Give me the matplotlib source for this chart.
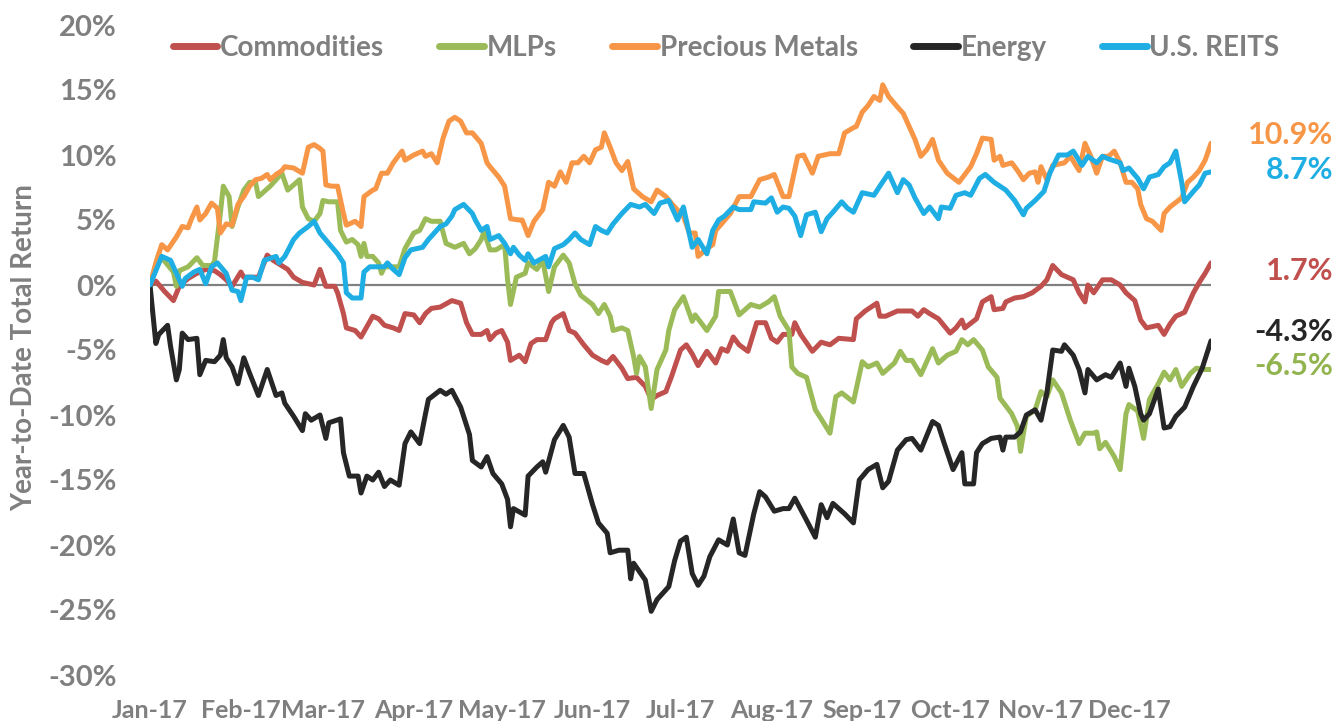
import matplotlib
matplotlib.use("Agg")
import matplotlib.pyplot as plt

plt.rcParams['font.family'] = ['Lato', 'DejaVu Sans']

# day of year (0 = Jan 1 2017), YTD total return in %
com_days = [0,2,5,8,10,13,16,19,22,24,26,28,31,32,37,40,42,47,49,52,56,58,60,63,64,66,67,70,72,74,
            76,78,80,83,85,87,90,92,94,96,99,103,106,108,110,113,115,116,118,120,122,123,126,128,130,132,135,137,138,141,
            143,145,148,151,154,156,158,161,163,166,169,171,173,176,178,181,183,185,187,190,193,195,197,199,201,204,207,210,212,214,
            216,219,220,222,226,229,232,235,240,241,244,248,249,251,255,260,262,264,266,269,273,275,277,278,282,284,287,288,291,292,
            295,298,301,304,306,308,311,315,317,319,320,322,325,328,331,333,336,338,340,342,344,346,348,350,353,356,358,360,362]
com_vals = [0.0,0.3,-0.5,-1.2,-0.1,0.5,0.9,1.2,1.1,0.8,0.4,-0.1,1.0,0.6,0.6,2.3,1.9,1.2,0.6,0.2,
            0.0,1.2,-0.1,-0.1,-0.6,-2.2,-3.3,-3.5,-4.0,-3.2,-2.4,-2.6,-3.1,-3.3,-3.5,-2.2,-2.3,-2.9,-2.2,-1.8,
            -1.7,-1.2,-1.4,-2.9,-3.8,-3.8,-3.5,-4.2,-3.7,-3.5,-4.4,-5.8,-5.4,-5.9,-4.5,-4.2,-4.2,-2.9,-2.6,-2.2,
            -3.5,-3.7,-4.6,-5.4,-5.8,-6.0,-5.5,-6.4,-7.2,-7.1,-7.8,-8.8,-8.5,-8.2,-7.0,-5.0,-4.6,-5.3,-6.2,-5.1,
            -6.0,-4.9,-5.1,-4.0,-4.6,-5.1,-2.9,-2.9,-4.1,-4.4,-3.8,-3.8,-2.9,-3.8,-5.1,-4.4,-4.6,-4.1,-4.2,-2.6,
            -2.0,-1.4,-2.4,-2.4,-2.0,-2.0,-2.4,-1.9,-2.2,-2.6,-3.7,-3.3,-2.7,-3.3,-2.6,-1.3,-0.9,-1.9,-1.8,-1.3,
            -1.0,-0.9,-0.6,-0.1,0.4,1.5,0.8,0.4,-0.6,-1.3,0.0,-0.6,0.4,0.4,0.0,-0.6,-1.2,-2.7,-3.3,-3.2,
            -3.1,-3.8,-3.0,-2.4,-2.1,-0.6,0.2,0.9,1.7]

mlp_days = [0,3,4,8,9,10,13,16,18,21,22,24,25,27,28,30,32,34,36,37,40,41,45,47,49,51,52,54,56,58,
            59,61,64,65,67,69,71,72,73,74,76,78,79,80,85,87,90,92,94,96,99,101,104,107,109,111,113,114,116,118,
            121,122,123,125,128,129,132,134,136,138,141,143,145,147,151,153,155,157,158,161,163,165,166,167,169,171,173,176,177,179,
            182,185,186,190,193,194,198,201,205,208,211,213,215,218,219,221,224,227,229,232,234,236,240,243,245,248,250,254,256,258,
            260,263,267,269,272,275,277,279,281,284,286,289,290,294,296,297,299,302,304,306,308,311,314,317,319,322,323,324,326,329,
            331,333,334,337,339,341,344,346,348,350,352,355,357,360,362]
mlp_vals = [0.0,2.4,2.1,1.0,-0.1,1.1,1.4,2.1,1.5,1.5,1.8,5.5,7.6,6.8,4.5,6.0,7.3,7.9,7.9,6.8,
            7.4,7.6,8.6,7.3,7.7,8.1,6.0,5.1,4.9,5.5,6.5,6.4,6.4,4.2,3.3,3.5,3.1,2.2,3.2,2.2,
            2.2,1.7,0.9,1.4,1.4,2.8,4.0,4.2,5.1,4.9,4.9,3.2,2.9,3.2,2.4,2.8,3.5,4.1,2.7,2.7,
            3.1,0.4,-1.5,0.6,0.9,1.7,1.2,1.9,-0.5,1.4,2.3,1.7,0.1,-0.8,-1.5,-2.2,-1.5,-2.4,-3.5,-3.3,
            -3.5,-5.5,-6.8,-5.5,-6.3,-9.5,-6.5,-5.0,-3.5,-1.9,-0.9,-2.8,-2.3,-3.5,-2.4,-0.5,-0.5,-2.3,-1.5,-1.7,
            -1.3,-0.9,-2.4,-3.5,-6.3,-6.8,-7.1,-9.6,-10.3,-11.4,-8.6,-8.3,-9.0,-5.9,-6.3,-6.0,-6.8,-6.0,-5.1,-5.8,
            -5.8,-6.9,-4.9,-6.0,-5.4,-5.1,-4.2,-4.6,-4.2,-5.0,-6.3,-7.1,-8.7,-9.9,-10.9,-12.8,-10.1,-9.6,-8.2,-8.6,
            -7.3,-8.3,-10.4,-12.2,-11.4,-11.4,-11.3,-12.6,-12.1,-13.2,-14.2,-9.9,-9.2,-9.7,-11.8,-8.8,-7.6,-6.7,-7.3,-6.5,
            -7.8,-6.8,-6.4,-6.5,-6.5]

pm_days = [0,2,4,6,9,11,13,14,16,17,19,21,23,24,26,28,30,32,34,36,38,40,41,43,45,46,49,52,54,56,
           58,59,60,62,64,66,67,70,72,73,76,77,79,81,83,86,87,90,93,94,96,98,100,102,104,106,108,110,113,115,
           116,119,121,123,126,127,129,131,134,136,138,140,142,144,146,148,150,152,154,155,157,159,161,163,165,168,171,173,176,179,
           182,184,186,187,190,192,193,195,198,201,205,208,211,213,216,218,221,223,226,228,232,235,237,240,241,243,245,247,249,250,
           252,255,257,259,261,263,265,267,269,272,276,280,282,284,287,288,290,291,294,296,298,300,302,303,304,306,308,312,314,317,
           319,321,323,325,327,329,331,333,335,337,338,340,342,345,346,348,352,354,356,358,360,362]
pm_vals = [0.0,1.7,3.1,2.7,3.7,4.5,4.4,5.0,6.0,5.0,5.5,6.3,5.9,4.0,4.7,4.6,6.2,6.8,7.6,8.1,
           8.2,8.5,8.1,8.5,8.8,9.1,9.0,8.6,10.6,10.8,10.5,10.3,7.7,7.6,7.6,5.5,4.6,4.9,4.5,6.8,
           7.3,7.4,8.6,8.6,9.4,10.3,9.6,10.0,10.3,9.9,10.1,9.4,11.3,12.6,12.9,12.6,11.7,11.7,10.9,9.4,
           9.1,8.3,7.6,5.1,5.0,5.0,3.8,4.9,5.8,7.9,7.6,8.7,7.9,9.4,9.4,9.9,9.4,10.4,10.6,11.7,
           10.6,9.4,8.8,9.5,7.4,6.8,6.4,7.3,6.8,6.0,5.3,4.0,4.0,2.2,2.8,3.1,4.2,4.7,5.5,6.8,
           6.8,8.1,8.3,8.5,6.8,6.8,9.9,10.0,8.6,9.9,10.1,10.1,11.7,12.1,12.2,13.3,13.8,14.5,14.2,15.4,
           14.5,13.7,13.2,12.2,11.2,9.9,10.4,11.2,9.6,8.6,7.9,9.1,10.1,11.3,11.2,9.6,9.9,9.2,9.4,8.8,
           8.1,8.6,8.7,7.9,9.1,8.1,9.2,9.4,9.9,8.8,10.9,9.9,8.6,9.9,9.9,10.3,9.4,7.9,7.9,7.4,
           6.2,5.1,4.9,4.2,5.5,6.0,6.7,7.9,8.3,8.8,9.6,10.9]

en_days = [0,2,3,6,7,9,10,11,13,16,17,19,22,24,25,26,28,30,32,34,37,40,43,45,46,49,52,53,55,58,
           60,61,65,66,68,71,72,74,76,78,80,82,85,87,89,92,94,95,99,101,103,106,109,110,113,115,117,120,122,123,
           124,128,129,132,134,135,138,141,143,145,148,151,153,156,157,160,163,164,165,169,171,173,177,179,181,183,185,187,189,191,
           194,197,199,201,203,206,208,210,213,216,218,220,224,227,229,231,233,237,240,242,245,248,250,252,255,258,260,263,267,269,
           271,274,277,278,281,282,284,287,290,291,292,295,297,299,302,304,306,308,311,312,315,317,319,320,323,326,328,331,333,334,
           336,338,339,341,344,346,348,350,353,356,359,362]
en_vals = [0.0,-4.5,-3.8,-3.1,-4.7,-7.3,-6.5,-3.7,-4.2,-4.1,-6.9,-5.8,-5.9,-5.4,-4.2,-5.6,-6.3,-7.6,-5.6,-6.8,
           -8.5,-6.5,-8.5,-8.3,-9.1,-10.1,-11.2,-9.9,-10.4,-10.0,-11.8,-10.6,-10.3,-12.9,-14.7,-14.7,-16.0,-14.7,-15.0,-14.4,
           -15.5,-15.0,-15.4,-12.2,-11.3,-12.2,-9.9,-8.8,-8.1,-8.4,-8.1,-9.4,-11.5,-13.5,-14.0,-13.2,-14.5,-15.3,-16.5,-18.6,
           -17.2,-17.7,-14.7,-14.0,-13.6,-14.4,-11.9,-10.8,-11.7,-14.5,-14.5,-16.9,-18.3,-19.1,-20.6,-20.4,-20.4,-22.6,-21.4,-22.7,
           -25.1,-24.2,-23.2,-21.2,-19.7,-19.4,-22.2,-23.1,-22.4,-20.9,-19.6,-20.0,-18.0,-20.6,-20.8,-17.6,-15.9,-16.3,-17.4,-17.2,
           -17.2,-16.4,-18.1,-19.4,-16.9,-17.9,-16.8,-17.6,-18.3,-15.0,-14.2,-13.8,-15.6,-15.1,-12.7,-11.9,-11.8,-12.7,-10.5,-10.8,
           -12.2,-14.2,-12.9,-15.3,-15.3,-12.9,-12.2,-11.8,-11.7,-12.7,-11.7,-11.7,-11.3,-10.0,-9.6,-10.4,-8.3,-5.0,-5.1,-4.6,
           -5.4,-6.5,-8.3,-6.5,-7.3,-6.9,-7.1,-6.0,-7.8,-6.4,-7.8,-9.9,-10.4,-9.9,-8.0,-11.0,-10.9,-10.1,-9.4,-7.8,
           -6.4,-4.3]

reit_days = [0,4,7,9,11,12,15,17,19,21,23,26,28,30,31,33,35,37,39,43,44,46,49,51,54,56,58,61,64,66,
             67,69,72,73,75,80,81,83,85,87,89,91,93,95,97,99,101,103,104,107,110,111,113,115,116,119,121,123,124,126,
             128,129,131,135,136,138,141,143,145,147,150,152,154,156,158,161,164,167,169,172,174,177,178,180,182,185,187,190,192,194,
             196,199,201,205,206,210,212,214,216,218,220,222,224,227,229,231,233,236,238,240,243,247,249,252,255,257,259,261,264,266,
             269,270,273,275,278,280,283,285,288,290,292,295,298,299,302,305,307,310,313,315,318,320,323,325,327,331,332,334,337,339,
             341,344,346,348,350,352,353,356,358,360,362]
reit_vals = [0.0,2.2,1.9,0.9,-0.1,0.5,1.0,1.2,0.1,1.4,1.7,0.9,-0.4,-0.5,-1.2,0.6,0.6,0.4,1.9,2.2,
             1.7,2.2,3.5,4.0,4.5,4.9,4.0,3.2,2.4,1.7,-0.6,-1.0,-1.0,1.0,1.4,1.4,1.7,1.2,0.8,2.1,
             2.7,2.8,2.9,3.5,4.0,4.5,4.7,5.3,5.8,6.2,5.5,5.0,4.2,4.5,3.5,3.8,3.2,2.4,2.9,2.3,
             1.9,2.4,1.7,2.2,1.4,2.8,3.1,3.5,4.0,3.5,3.1,4.5,4.2,4.0,4.7,5.5,6.2,6.0,6.2,5.5,
             6.3,6.5,6.0,5.0,6.0,2.9,3.5,2.4,4.2,5.0,5.3,6.0,5.8,5.8,6.4,6.3,6.7,5.6,6.0,5.9,
             5.3,3.8,5.4,5.6,4.1,5.1,5.6,6.4,5.9,5.6,7.1,6.9,7.6,8.6,7.1,8.1,7.7,6.7,5.5,6.0,
             5.1,6.0,5.9,6.9,7.1,6.9,8.2,8.5,7.9,7.6,7.3,6.5,5.4,5.9,6.5,7.2,8.6,10.0,10.0,10.3,
             9.2,9.9,9.4,9.9,9.7,9.4,8.8,9.0,8.2,7.4,8.3,8.5,9.1,9.4,10.3,7.9,6.4,7.2,7.7,8.6,
             8.7]

names = ['Commodities', 'MLPs', 'Precious Metals', 'Energy', 'U.S. REITS']
colors = ['#C0504D', '#9BBB59', '#F79646', '#262626', '#1EAEE4']
label_colors = ['#C0504D', '#92B44F', '#F79646', '#262626', '#1EAEE4']
series = [(com_days, com_vals), (mlp_days, mlp_vals), (pm_days, pm_vals),
          (en_days, en_vals), (reit_days, reit_vals)]

month_days = [0, 31, 59, 90, 120, 151, 181, 212, 243, 273, 304, 334]
month_labels = ['Jan-17', 'Feb-17', 'Mar-17', 'Apr-17', 'May-17', 'Jun-17',
                'Jul-17', 'Aug-17', 'Sep-17', 'Oct-17', 'Nov-17', 'Dec-17']
y_ticks = [20, 15, 10, 5, 0, -5, -10, -15, -20, -25, -30]

gray = '#7F7F7F'

fig = plt.figure(figsize=(13.38, 7.21), dpi=100)
ax = fig.add_axes([150/1338, 1-675/721, 1061/1338, 650/721])

ax.axhline(0, color='#808080', lw=1.6, zorder=1)
lines = []
for (d, v), name, c in zip(series, names, colors):
    ln, = ax.plot(d, v, color=c, lw=3.6, label=name, zorder=2,
                  solid_joinstyle='round', solid_capstyle='round')
    lines.append(ln)

ax.set_xlim(0, 362)
ax.set_ylim(-30, 20)
ax.set_yticks(y_ticks)
ax.set_yticklabels([f'{t}%' for t in y_ticks])
ax.set_xticks(month_days)
ax.set_xticklabels(month_labels)
ax.tick_params(axis='y', length=0, pad=24, labelsize=21, labelcolor=gray)
ax.tick_params(axis='x', length=0, pad=17, labelsize=18, labelcolor=gray)
for lab in ax.get_xticklabels() + ax.get_yticklabels():
    lab.set_fontweight('bold')
for s in ax.spines.values():
    s.set_visible(False)

fig.text(24/1338, 1-348/721, 'Year-to-Date Total Return', rotation=90,
         ha='center', va='center', fontsize=20, fontweight='bold', color=gray)

leg = fig.legend(handles=lines, loc='center', bbox_to_anchor=(726/1338, 1-48/721),
                 ncol=5, frameon=False, fontsize=20, handlelength=1.6,
                 handletextpad=0.1, columnspacing=2.0)
for t in leg.get_texts():
    t.set_color(gray)
    t.set_fontweight('bold')
for h in leg.legend_handles:
    h.set_linewidth(5)

# end-of-year labels
end_y = [271, 366, 135, 332, 170]
for (d, v), c, yy in zip(series, label_colors, end_y):
    fig.text(1333/1338, 1-yy/721, f'{v[-1]:.1f}%', ha='right', va='center',
             fontsize=22, fontweight='bold', color=c)

fig.savefig('out.png', dpi=100)
